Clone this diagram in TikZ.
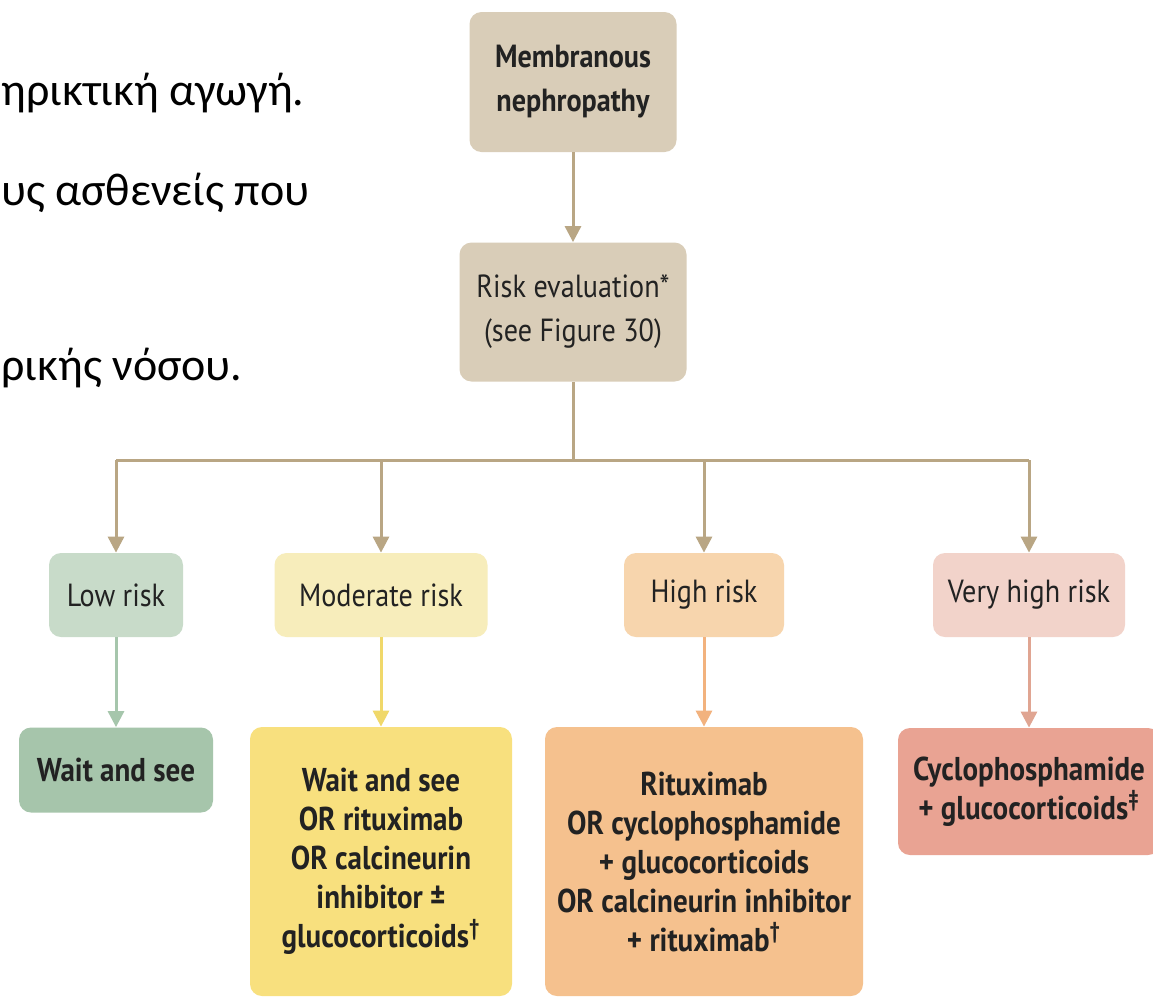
\documentclass[tikz,border=0pt]{standalone}
\usepackage{fontspec}
\setmainfont{Carlito}
\newfontfamily\diagfont[FakeStretch=0.88]{PT Sans}
\usetikzlibrary{arrows.meta}

\definecolor{tanbox}{HTML}{D9CDB8}
\definecolor{tanline}{HTML}{B9A684}
\definecolor{lowbox}{HTML}{C8DBC9}
\definecolor{lowtreat}{HTML}{A6C5AB}
\definecolor{lowline}{HTML}{A6C6AC}
\definecolor{modbox}{HTML}{F7EDBB}
\definecolor{modtreat}{HTML}{F8E07E}
\definecolor{modline}{HTML}{F0D86A}
\definecolor{highbox}{HTML}{F7D5AD}
\definecolor{hightreat}{HTML}{F5C18E}
\definecolor{highline}{HTML}{F2B27E}
\definecolor{vhighbox}{HTML}{F2D3CA}
\definecolor{vhightreat}{HTML}{E9A393}
\definecolor{vhighline}{HTML}{E0A592}
\definecolor{textgray}{HTML}{222222}

\tikzset{
  box/.style={rounded corners=6pt, align=center, inner sep=0pt, text=textgray,
    font=\diagfont\fontsize{16}{22}\selectfont},
  treat/.style={box, font=\diagfont\bfseries\fontsize{16.5}{19.5}\selectfont},
  link/.style={line width=1.5pt, -{Triangle[width=8pt,length=8pt]}},
  greek/.style={anchor=base west, inner sep=0pt, font=\fontsize{23}{28}\selectfont},
}

\begin{document}
\begin{tikzpicture}[x=0.5pt, y=-0.5pt]
			%%%%% START %%%%%
			\useasboundingbox[fill=white] (0,0) rectangle (1153,998);
			
			\node[greek] (line1) at (1,105) {ηρικτική αγωγή.};
			\node[greek] (line2) at (1,205) {υς ασθενείς που};
			\node[greek] (line3) at (1,380) {ρικής νόσου.};
			
			\node[box, fill=tanbox, minimum width=103.5pt, minimum height=70pt,
			  font=\diagfont\bfseries\fontsize{16}{22}\selectfont] (mem) at (573,82) {Membranous\\nephropathy};
			\node[box, fill=tanbox, minimum width=113.5pt, minimum height=69.5pt] (risk) at (573,312) {Risk evaluation*\\(see Figure 30)};
			\draw[link, tanline] (mem) -- (risk);
			
			\coordinate (split) at (573,460);
			\coordinate (b1) at (116,460);
			\coordinate (b2) at (381,460);
			\coordinate (b3) at (704,460);
			\coordinate (b4) at (1029,460);
			\draw[line width=1.5pt, tanline] (risk) -- (split);
			\draw[line width=1.5pt, tanline] (b1) -- (b4);
			
			\node[box, fill=lowbox, minimum width=67pt, minimum height=42pt] (low) at (116,595) {Low risk};
			\node[box, fill=modbox, minimum width=106.5pt, minimum height=42pt] (mod) at (381,595) {Moderate risk};
			\node[box, fill=highbox, minimum width=80pt, minimum height=42pt] (high) at (704,595) {High risk};
			\node[box, fill=vhighbox, minimum width=96pt, minimum height=42pt] (vhigh) at (1029,595) {Very high risk};
			
			\draw[link, tanline] (b1) -- (low);
			\draw[link, tanline] (b2) -- (mod);
			\draw[link, tanline] (b3) -- (high);
			\draw[link, tanline] (b4) -- (vhigh);
			
			\node[treat, fill=lowtreat, minimum width=97pt, minimum height=42.5pt] (lowrx) at (116,770) {Wait and see};
			\node[treat, fill=modtreat, minimum width=131pt, minimum height=134.5pt] (modrx) at (381,861.5)
			  {Wait and see\\OR rituximab\\OR calcineurin\\inhibitor ±\\glucocorticoids\textsuperscript{†}};
			\node[treat, fill=hightreat, minimum width=159pt, minimum height=134.5pt] (highrx) at (704,861.5)
			  {Rituximab\\OR cyclophosphamide\\+ glucocorticoids\\OR calcineurin inhibitor\\+ rituximab\textsuperscript{†}};
			\node[treat, fill=vhightreat, minimum width=131pt, minimum height=63.5pt] (vhighrx) at (1029,791.5)
			  {Cyclophosphamide\\+ glucocorticoids\textsuperscript{‡}};
			
			\draw[link, lowline] (low) -- (lowrx);
			\draw[link, modline] (mod) -- (modrx);
			\draw[link, highline] (high) -- (highrx);
			\draw[link, vhighline] (vhigh) -- (vhighrx);
			%%%%% END %%%%%
\end{tikzpicture}
\end{document}
